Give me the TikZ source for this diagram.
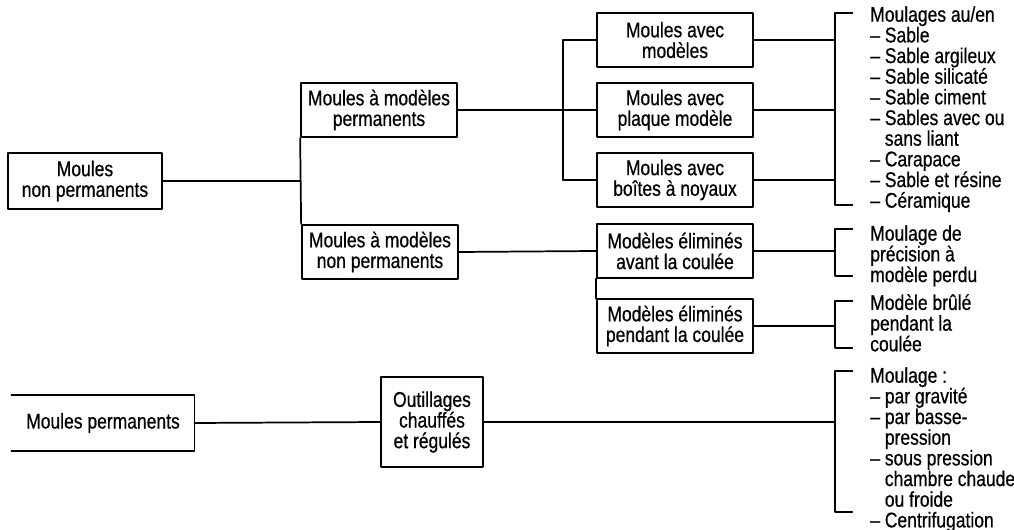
\documentclass[tikz,border=0pt]{standalone}
\usepackage{fontspec}
\setmainfont{Liberation Sans}[FakeStretch=0.82, FakeBold=0.6]
\usepackage{tikz}
\usetikzlibrary{positioning}

\begin{document}
\begin{tikzpicture}[x=0.75pt, y=-0.75pt, line cap=round, line join=round,
  every node/.style={font=\fontsize{16}{15.5}\selectfont},
  box/.style={draw, line width=1.3pt, align=center, inner sep=1pt,
    minimum width=117pt, minimum height=41pt},
  liste/.style={anchor=north west, align=left, inner sep=0pt},
  trait/.style={line width=1.3pt}]

\useasboundingbox (0,0) rectangle (1014,530);

% Moules non permanents
\node[box, minimum width=116pt, minimum height=42pt] (mnp) at (85,181) {Moules\\non permanents};
\node[box] (mmp) at (379,110) {Moules à modèles\\permanents};
\node[box] (mmnp) at (380,252) {Moules à modèles\\non permanents};

\draw[trait] (mmp.south west) -- (mmnp.north west);
\draw[trait] (mnp.east) -- (mnp.east -| mmp.west);

% Modeles permanents
\node[box] (mam) at (675,40) {Moules avec\\modèles};
\node[box] (map) at (675,110) {Moules avec\\plaque modèle};
\node[box] (mab) at (675,180) {Moules avec\\boîtes à noyaux};

\coordinate (tronc) at (563,0);
\draw[trait] (mmp.east) -- (mmp.east -| tronc);
\draw[trait] (mam.west -| tronc) -- (mab.west -| tronc);
\foreach \b in {mam,map,mab}
  \draw[trait] (\b.west -| tronc) -- (\b.west);

% Modeles non permanents
\node[box, minimum height=40pt] (mea) at (675,251) {Modèles éliminés\\avant la coulée};
\node[box, minimum height=40pt] (mep) at (675,326) {Modèles éliminés\\pendant la coulée};

\draw[trait] (mmnp.east) -- (mea.west);
\draw[trait] (mea.south west) -- (mep.north west);

% Accolades et listes
\coordinate (acc) at (835,0);
\coordinate (acc1h) at (835,13);
\coordinate (acc1b) at (835,205);
\draw[trait] ([xshift=13pt]acc1h) -- (acc1h) -- (acc1b) -- ([xshift=13pt]acc1b);
\foreach \b in {mam,map,mab}
  \draw[trait] (\b.east) -- (\b.east -| acc);

\node[liste] (l1) at (870,6) {Moulages au/en\\
  – Sable\\
  – Sable argileux\\
  – Sable silicaté\\
  – Sable ciment\\
  – Sables avec ou\\
  \phantom{– }sans liant\\
  – Carapace\\
  – Sable et résine\\
  – Céramique};

\coordinate (acc2h) at (835,229);
\coordinate (acc2b) at (835,276);
\draw[trait] ([xshift=13pt]acc2h) -- (acc2h) -- (acc2b) -- ([xshift=13pt]acc2b);
\draw[trait] (mea.east) -- (mea.east -| acc);
\node[liste] (l2) at (870,225) {Moulage de\\précision à\\modèle perdu};

\coordinate (acc3h) at (835,301);
\coordinate (acc3b) at (835,348);
\draw[trait] ([xshift=13pt]acc3h) -- (acc3h) -- (acc3b) -- ([xshift=13pt]acc3b);
\draw[trait] (mep.east) -- (mep.east -| acc);
\node[liste] (l3) at (870,294) {Modèle brûlé\\pendant la\\coulée};

% Moules permanents
\node[minimum width=137pt, minimum height=42pt, inner sep=1pt] (mp) at (103,423) {Moules permanents};
\draw[trait] (mp.north west) -- (mp.north east) -- (mp.south east) -- (mp.south west);
\node[box, minimum width=76pt, minimum height=67pt] (och) at (432,422) {Outillages\\chauffés\\et régulés};

\draw[trait] (mp.east) -- (och.west);

\coordinate (acc4h) at (835,371);
\coordinate (acc4b) at (835,512);
\draw[trait] ([xshift=13pt]acc4h) -- (acc4h) -- (acc4b) -- ([xshift=13pt]acc4b);
\draw[trait] (och.east) -- (och.east -| acc);
\node[liste] (l4) at (870,367) {Moulage :\\
  – par gravité\\
  – par basse-\\
  \phantom{– }pression\\
  – sous pression\\
  \phantom{– }chambre chaude\\
  \phantom{– }ou froide\\
  – Centrifugation};

\end{tikzpicture}
\end{document}
